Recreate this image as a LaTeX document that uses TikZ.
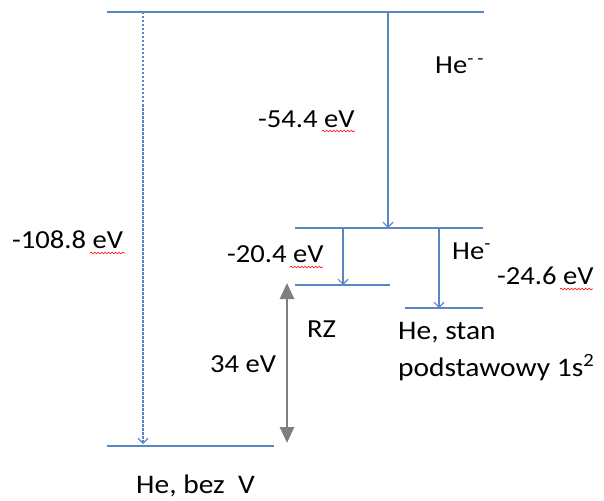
\documentclass[tikz,border=0pt]{standalone}
\usepackage{fontspec}
\setmainfont{Carlito}[FakeStretch=1.1]
\usetikzlibrary{arrows.meta,decorations.pathmorphing}
\definecolor{lvl}{HTML}{5B86C5}
\definecolor{gr}{HTML}{7F7F7F}
\tikzset{
  level/.style={draw=lvl, line width=1.1pt},
  trans/.style={draw=lvl, line width=1.1pt, -{Straight Barb[length=5pt,width=10pt]}},
  dtrans/.style={trans, dash pattern=on 2.5pt off 1.5pt},
  gap/.style={draw=gr, line width=2.6pt, {Triangle[length=16pt,width=14pt]}-{Triangle[length=16pt,width=14pt]}},
  lbl/.style={inner sep=0pt, anchor=base west, font=\fontsize{26}{31}\selectfont, text=black},
  biglbl/.style={lbl, font=\fontsize{26.8}{32}\selectfont},
  squig/.style={draw=red, line width=0.6pt, decorate, decoration={snake, amplitude=0.9pt, segment length=3.5pt}}
}
\begin{document}
\begin{tikzpicture}[x=1pt,y=-1pt]
\useasboundingbox (0,0) rectangle (604,500);
% levels
\coordinate (t1) at (107,12); \coordinate (t2) at (484,12);
\coordinate (m1) at (295,228); \coordinate (m2) at (483,228);
\coordinate (r1) at (295,285); \coordinate (r2) at (390,285);
\coordinate (g1) at (405,308); \coordinate (g2) at (483,308);
\coordinate (b1) at (107,446); \coordinate (b2) at (274,446);
\draw[level] (t1) -- (t2);
\draw[level] (m1) -- (m2);
\draw[level] (r1) -- (r2);
\draw[level] (g1) -- (g2);
\draw[level] (b1) -- (b2);
% transitions
\coordinate (a1s) at (143,12); \coordinate (a1e) at (143,444);
\coordinate (a2s) at (388,12); \coordinate (a2e) at (388,228);
\coordinate (a3s) at (343,228); \coordinate (a3e) at (343,285);
\coordinate (a4s) at (439,228); \coordinate (a4e) at (439,308);
\draw[dtrans] (a1s) -- (a1e);
\draw[trans] (a2s) -- (a2e);
\draw[trans] (a3s) -- (a3e);
\draw[trans] (a4s) -- (a4e);
% gap arrow
\coordinate (gt) at (287,283); \coordinate (gb) at (287,443);
\draw[gap] (gt) -- (gb);
% labels
\node[lbl] (hemm) at (435,74) {He\textsuperscript{-\hspace{4pt}-}};
\node[lbl] (e54) at (258,127) {-54.4 eV};
\node[lbl] (e108) at (12,248) {-108.8 eV};
\node[lbl] (e20) at (227,262) {-20.4 eV};
\node[lbl] (hem) at (452,259) {He\textsuperscript{-}};
\node[lbl] (e24) at (497,284) {-24.6 eV};
\node[lbl] (rz) at (307,337) {RZ};
\node[lbl] (e34) at (210,372) {34 eV};
\node[biglbl] (hs1) at (398,339) {He, stan};
\node[biglbl] (hs2) at (398,376) {podstawowy 1s\textsuperscript{2}};
\node[biglbl] (hb) at (136,493) {He, bez\ \ V};
% spell-check underlines
\draw[squig] (322,131) -- (355,131);
\draw[squig] (90,253) -- (125,253);
\draw[squig] (290,267) -- (323,267);
\draw[squig] (560,289) -- (593,289);
\end{tikzpicture}
\end{document}
